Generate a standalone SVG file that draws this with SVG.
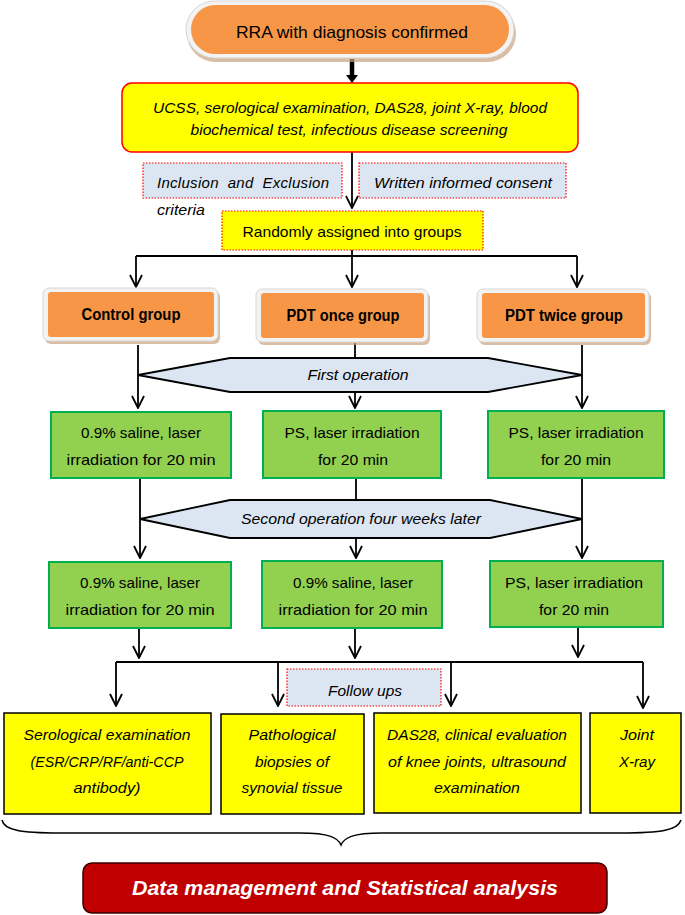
<svg xmlns="http://www.w3.org/2000/svg" width="685" height="915" viewBox="0 0 685 915">
<defs>
<marker id="vee" viewBox="0 0 14 14" refX="13" refY="7" markerWidth="14" markerHeight="14" markerUnits="userSpaceOnUse" orient="auto">
<path d="M1,1 L13,7 L1,13" fill="none" stroke="#000" stroke-width="1.8"/>
</marker>
</defs>
<style>
text{font-family:"Liberation Sans",Arial,sans-serif;fill:#000;text-anchor:middle}
.it{font-style:italic}
.b{font-weight:bold}
.f15{font-size:15px}
.f14{font-size:14px}
.ln{stroke:#000;stroke-width:1.8;fill:none}
.arr{stroke:#000;stroke-width:1.8;fill:none;marker-end:url(#vee)}
.shadow{fill:#C9A27F;opacity:0.7}
.frame{fill:#F3F3F3;stroke:#D6D6D6;stroke-width:1}
.orange{fill:#F79646}
.yellowR{fill:#FFFF00;stroke:#FF0000;stroke-width:1.5}
.dotted{stroke:#FF0000;stroke-width:1.2;stroke-dasharray:1.5 1.5}
.blue{fill:#DCE6F2}
.green{fill:#92D050;stroke:#00B050;stroke-width:2}
.hex{fill:#DCE6F2;stroke:#000;stroke-width:1.8}
.yb{fill:#FFFF00;stroke:#000;stroke-width:1.5}
</style>
<rect width="685" height="915" fill="#fff"/>

<g id="connectors">
<path d="M352,59 V76" stroke="#000" stroke-width="4.5" fill="none"/>
<path d="M346,75 L358,75 L352,83 Z" fill="#000"/>
<path class="arr" d="M352,152 V208"/>
<path class="ln" d="M352,250 V256 M136,256 H577"/>
<path class="arr" d="M136,256 V287"/>
<path class="arr" d="M352,256 V287"/>
<path class="arr" d="M577,256 V287"/>
<path class="arr" d="M138,345 V408"/>
<path class="ln" d="M355,343 V358"/>
<path class="arr" d="M355,392 V408"/>
<path class="arr" d="M582,345 V408"/>
<path class="arr" d="M140,478 V558"/>
<path class="ln" d="M356,478 V500"/>
<path class="arr" d="M356,538 V558"/>
<path class="arr" d="M582,478 V558"/>
<path class="arr" d="M139,628 V658"/>
<path class="arr" d="M355,628 V658"/>
<path class="arr" d="M578,627 V657"/>
<path class="ln" d="M116,662 H643"/>
<path class="arr" d="M116,662 V706"/>
<path class="arr" d="M278,662 V706"/>
<path class="arr" d="M451,662 V706"/>
<path class="arr" d="M643,662 V708"/>
<path d="M2,820 C4,830 20,833 60,833 L300,833 C330,833 338,838 341,845 C344,838 352,833 382,833 L620,833 C662,833 678,830 681,820" fill="none" stroke="#000" stroke-width="1.5"/>
</g>

<g id="start">
<rect class="shadow" x="187" y="5" width="329" height="57" rx="28.5"/>
<rect class="frame" x="186" y="1" width="328" height="57" rx="28.5"/>
<rect class="orange" x="191" y="5" width="318" height="49" rx="24.5"/>
<text x="352" y="38" font-size="17" textLength="232" lengthAdjust="spacingAndGlyphs">RRA with diagnosis confirmed</text>
</g>

<g id="screening">
<rect class="yellowR" x="122" y="83" width="456" height="69" rx="10"/>
<text class="it f15" x="350" y="113" textLength="394" lengthAdjust="spacingAndGlyphs">UCSS, serological examination, DAS28, joint X-ray, blood</text>
<text class="it f15" x="349" y="135" textLength="317" lengthAdjust="spacingAndGlyphs">biochemical test, infectious disease screening</text>
</g>

<g id="inclusion">
<rect class="blue dotted" x="143" y="163" width="199" height="35"/>
<text class="it f15" x="243" y="188" xml:space="preserve" textLength="172" lengthAdjust="spacing">Inclusion  and  Exclusion</text>
<text class="it f15" x="157" y="215" style="text-anchor:start" textLength="48" lengthAdjust="spacingAndGlyphs">criteria</text>
</g>

<g id="consent">
<rect class="blue dotted" x="359" y="163" width="207" height="35"/>
<text class="it f15" x="463" y="188" textLength="178" lengthAdjust="spacingAndGlyphs">Written informed consent</text>
</g>

<g id="randomly">
<rect class="dotted" fill="#FFFF00" x="222" y="211" width="261" height="39"/>
<text class="f15" x="352" y="237" textLength="219" lengthAdjust="spacingAndGlyphs">Randomly assigned into groups</text>
</g>

<g id="control">
<rect class="shadow" x="45" y="291" width="175" height="53" rx="6"/>
<rect class="frame" x="43" y="288" width="175" height="53" rx="6"/>
<rect class="orange" x="48" y="292" width="166" height="45" rx="3"/>
<text class="b" font-size="16" x="131" y="320" textLength="99" lengthAdjust="spacingAndGlyphs">Control group</text>
</g>

<g id="pdtonce">
<rect class="shadow" x="258" y="292" width="172" height="53" rx="6"/>
<rect class="frame" x="256" y="289" width="172" height="53" rx="6"/>
<rect class="orange" x="261" y="293" width="163" height="45" rx="3"/>
<text class="b" font-size="16" x="343" y="321" textLength="113" lengthAdjust="spacingAndGlyphs">PDT once group</text>
</g>

<g id="pdttwice">
<rect class="shadow" x="479" y="292" width="172" height="53" rx="6"/>
<rect class="frame" x="477" y="289" width="172" height="53" rx="6"/>
<rect class="orange" x="482" y="293" width="163" height="45" rx="3"/>
<text class="b" font-size="16" x="564" y="321" textLength="118" lengthAdjust="spacingAndGlyphs">PDT twice group</text>
</g>

<g id="first-operation">
<polygon class="hex" points="138,375 230,358 488,358 582,375 488,392 230,392"/>
<text class="it f14" x="358" y="380" textLength="101" lengthAdjust="spacingAndGlyphs">First operation</text>
</g>

<g id="op1-control">
<rect class="green" x="51" y="412" width="180" height="66"/>
<text class="f15" x="141" y="438" textLength="120" lengthAdjust="spacingAndGlyphs">0.9% saline, laser</text>
<text class="f15" x="141" y="465" textLength="149" lengthAdjust="spacingAndGlyphs">irradiation for 20 min</text>
</g>

<g id="op1-once">
<rect class="green" x="263" y="411" width="178" height="67"/>
<text class="f15" x="352" y="438" textLength="135" lengthAdjust="spacingAndGlyphs">PS, laser irradiation</text>
<text class="f15" x="353" y="465" textLength="70" lengthAdjust="spacingAndGlyphs">for 20 min</text>
</g>

<g id="op1-twice">
<rect class="green" x="488" y="411" width="176" height="67"/>
<text class="f15" x="576" y="438" textLength="135" lengthAdjust="spacingAndGlyphs">PS, laser irradiation</text>
<text class="f15" x="576" y="465" textLength="70" lengthAdjust="spacingAndGlyphs">for 20 min</text>
</g>

<g id="second-operation">
<polygon class="hex" points="140,519 230,500 490,500 582,519 490,538 230,538"/>
<text class="it f14" x="361" y="524" textLength="240" lengthAdjust="spacingAndGlyphs">Second operation four weeks later</text>
</g>

<g id="op2-control">
<rect class="green" x="49" y="562" width="182" height="66"/>
<text class="f15" x="140" y="588" textLength="120" lengthAdjust="spacingAndGlyphs">0.9% saline, laser</text>
<text class="f15" x="140" y="615" textLength="149" lengthAdjust="spacingAndGlyphs">irradiation for 20 min</text>
</g>

<g id="op2-once">
<rect class="green" x="262" y="561" width="180" height="67"/>
<text class="f15" x="353" y="588" textLength="120" lengthAdjust="spacingAndGlyphs">0.9% saline, laser</text>
<text class="f15" x="353" y="615" textLength="149" lengthAdjust="spacingAndGlyphs">irradiation for 20 min</text>
</g>

<g id="op2-twice">
<rect class="green" x="490" y="561" width="173" height="66"/>
<text class="f15" x="574" y="588" textLength="138" lengthAdjust="spacingAndGlyphs">PS, laser irradiation</text>
<text class="f15" x="574" y="615" textLength="70" lengthAdjust="spacingAndGlyphs">for 20 min</text>
</g>

<g id="followups">
<rect class="blue dotted" x="287" y="669" width="154" height="37"/>
<text class="it f14" x="365" y="696" textLength="74" lengthAdjust="spacingAndGlyphs">Follow ups</text>
</g>

<g id="serological">
<rect class="yb" x="4" y="713" width="207" height="101"/>
<text class="it f14" x="107" y="740" textLength="167" lengthAdjust="spacingAndGlyphs">Serological examination</text>
<text class="it f14" x="107" y="767" textLength="153" lengthAdjust="spacingAndGlyphs">(ESR/CRP/RF/anti-CCP</text>
<text class="it f14" x="107" y="793" textLength="67" lengthAdjust="spacingAndGlyphs">antibody)</text>
</g>

<g id="pathological">
<rect class="yb" x="221" y="714" width="143" height="100"/>
<text class="it f14" x="292" y="740" textLength="87" lengthAdjust="spacingAndGlyphs">Pathological</text>
<text class="it f14" x="292" y="767" textLength="74" lengthAdjust="spacingAndGlyphs">biopsies of</text>
<text class="it f14" x="292" y="793" textLength="101" lengthAdjust="spacingAndGlyphs">synovial tissue</text>
</g>

<g id="das28">
<rect class="yb" x="374" y="713" width="207" height="100"/>
<text class="it f14" x="477" y="740" textLength="180" lengthAdjust="spacingAndGlyphs">DAS28, clinical evaluation</text>
<text class="it f14" x="477" y="767" textLength="178" lengthAdjust="spacingAndGlyphs">of knee joints, ultrasound</text>
<text class="it f14" x="477" y="793" textLength="86" lengthAdjust="spacingAndGlyphs">examination</text>
</g>

<g id="xray">
<rect class="yb" x="590" y="713" width="91" height="100"/>
<text class="it f14" x="637" y="740" textLength="34" lengthAdjust="spacingAndGlyphs">Joint</text>
<text class="it f14" x="637" y="767" textLength="36" lengthAdjust="spacingAndGlyphs">X-ray</text>
</g>

<g id="analysis">
<rect x="83" y="863" width="524" height="50" rx="9" fill="#C00000" stroke="#3a0000" stroke-width="1.5"/>
<text class="b it" x="345" y="895" font-size="20" style="fill:#fff" textLength="426" lengthAdjust="spacingAndGlyphs">Data management and Statistical analysis</text>
</g>
</svg>
